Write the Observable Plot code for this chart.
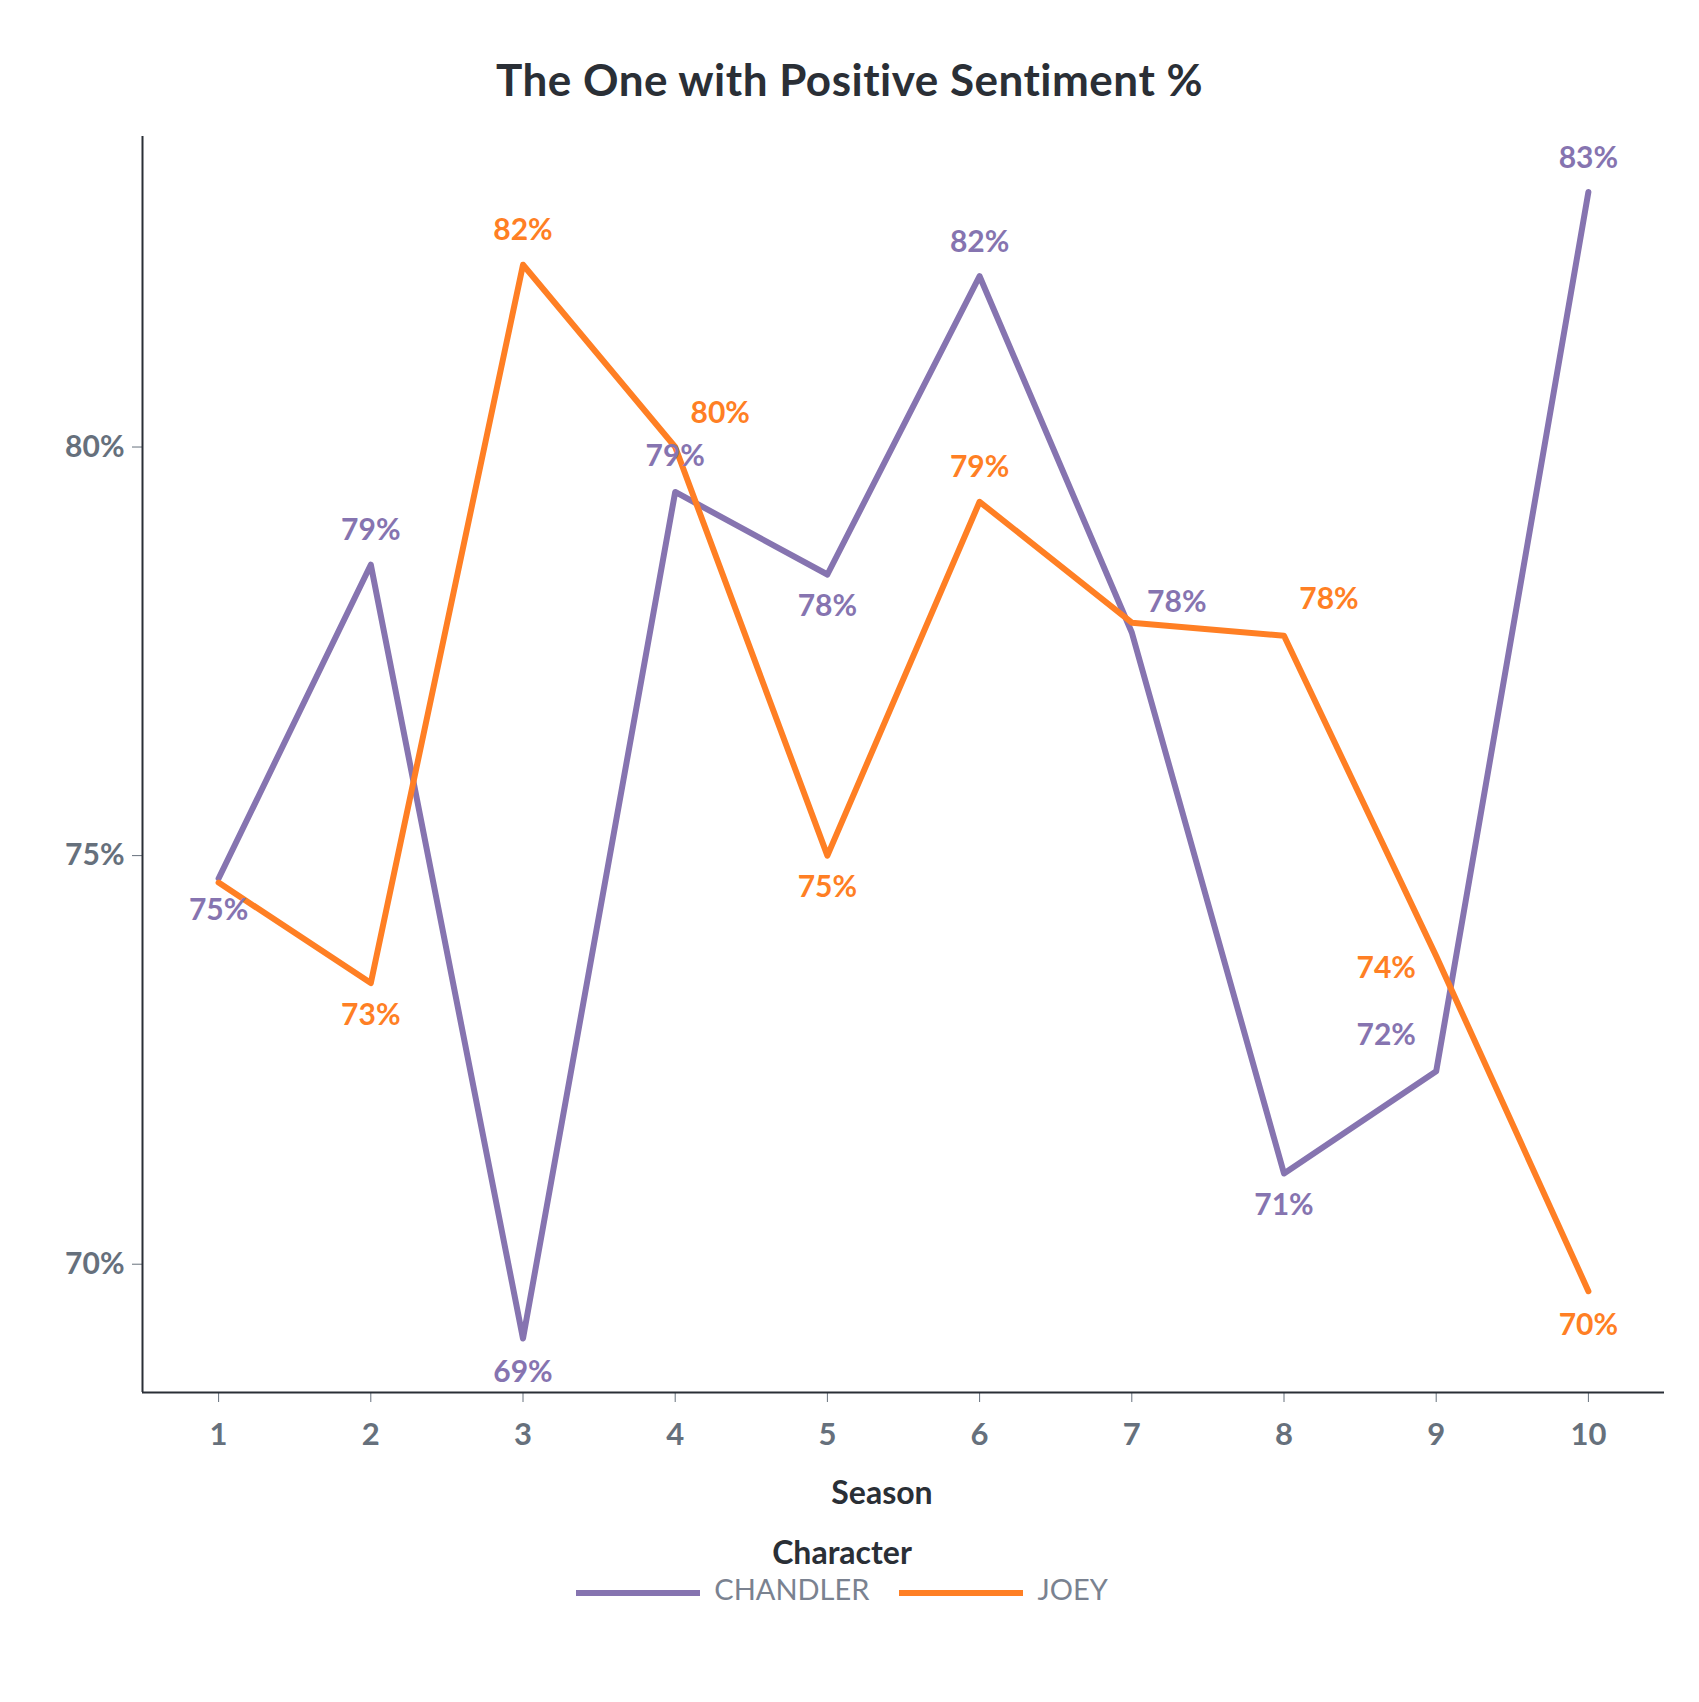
<!DOCTYPE html>
<html><head><meta charset="utf-8">
<script src="https://cdn.jsdelivr.net/npm/d3@7"></script>
<script src="https://cdn.jsdelivr.net/npm/@observablehq/plot@0.6"></script>
<style>
body{margin:0;background:#fff;font-family:Lato,sans-serif;width:1699px}
#title{height:120px;line-height:158px;text-align:center;font-size:44px;font-weight:bold;color:#2a2f36;letter-spacing:0.5px}
#season{text-align:center;font-size:32px;font-weight:bold;color:#2a2f36;margin-left:65px;height:70px;line-height:60px}
#legend{text-align:center;color:#2a2f36;margin-left:-15px}
#legend .h{font-size:32px;font-weight:bold}
#legend .items{font-size:29px;color:#7a8290;display:flex;justify-content:center;gap:30px;align-items:center}
#legend span.sw{display:inline-block;width:124px;height:6px;vertical-align:middle;margin-right:14px}
</style></head>
<body>
<div id="title">The One with Positive Sentiment %</div>
<div id="chart"></div>
<div id="season">Season</div>
<div id="legend"><div class="h">Character</div>
<div class="items"><div><span class="sw" style="background:#8674b0"></span>CHANDLER</div><div><span class="sw" style="background:#ff7f24"></span>JOEY</div></div></div>
<script>
const seasons = [1,2,3,4,5,6,7,8,9,10];
const chandler = [74.72,78.56,69.09,79.45,78.44,82.09,77.73,71.11,72.36,83.12];
const joey = [74.67,73.44,82.23,80.0,75.0,79.33,77.85,77.69,73.77,69.67];
const colors = {CHANDLER:"#8674b0", JOEY:"#ff7f24"};

// label placement (dx, dy) per point; null = label hidden behind other series in the original
const place = {
  CHANDLER:[[0,32],[0,-34],[0,34],[0,-36],[0,32],[0,-34],[45,-30],[0,32],[-50,-36],[0,-34]],
  JOEY:[null,[0,32],[0,-34],[45,-34],[0,32],[0,-34],null,[45,-36],[-50,12],[0,34]]
};
const data = [];
for (const [who, vals] of [["CHANDLER",chandler],["JOEY",joey]])
  vals.forEach((v,i)=>data.push({season:seasons[i], value:v, who, p:place[who][i]}));
const labelled = data.filter(d=>d.p);

const chart = Plot.plot({
  width:1699, height:1342,
  marginLeft:142, marginRight:35, marginTop:16, marginBottom:70,
  style:{fontFamily:"Lato, sans-serif", fontSize:"30px", color:"#66707c"},
  x:{domain:[0.5,10.5]},
  y:{domain:[68.43,83.8]},
  marks:[
    Plot.axisX({ticks:seasons, tickFormat:d=>d, label:null, tickSize:10, tickPadding:20, fontWeight:"bold", fontSize:31}),
    Plot.axisY({ticks:[70,75,80], tickFormat:d=>d+"%", label:null, tickSize:10, tickPadding:8, fontWeight:"bold", fontSize:30}),
    Plot.ruleX([0.5],{stroke:"#2a2f36", strokeWidth:2}),
    Plot.ruleY([68.43],{stroke:"#2a2f36", strokeWidth:2}),
    Plot.line(data,{x:"season", y:"value", z:"who", stroke:d=>colors[d.who], strokeWidth:6}),
    ...labelled.map(d=>Plot.text([d],{x:"season", y:"value", text:d=>Math.round(d.value)+"%", fill:colors[d.who], dx:d.p[0], dy:d.p[1], fontSize:30, fontWeight:"bold"}))
  ]
});
document.getElementById("chart").append(chart);
</script>
</body></html>
